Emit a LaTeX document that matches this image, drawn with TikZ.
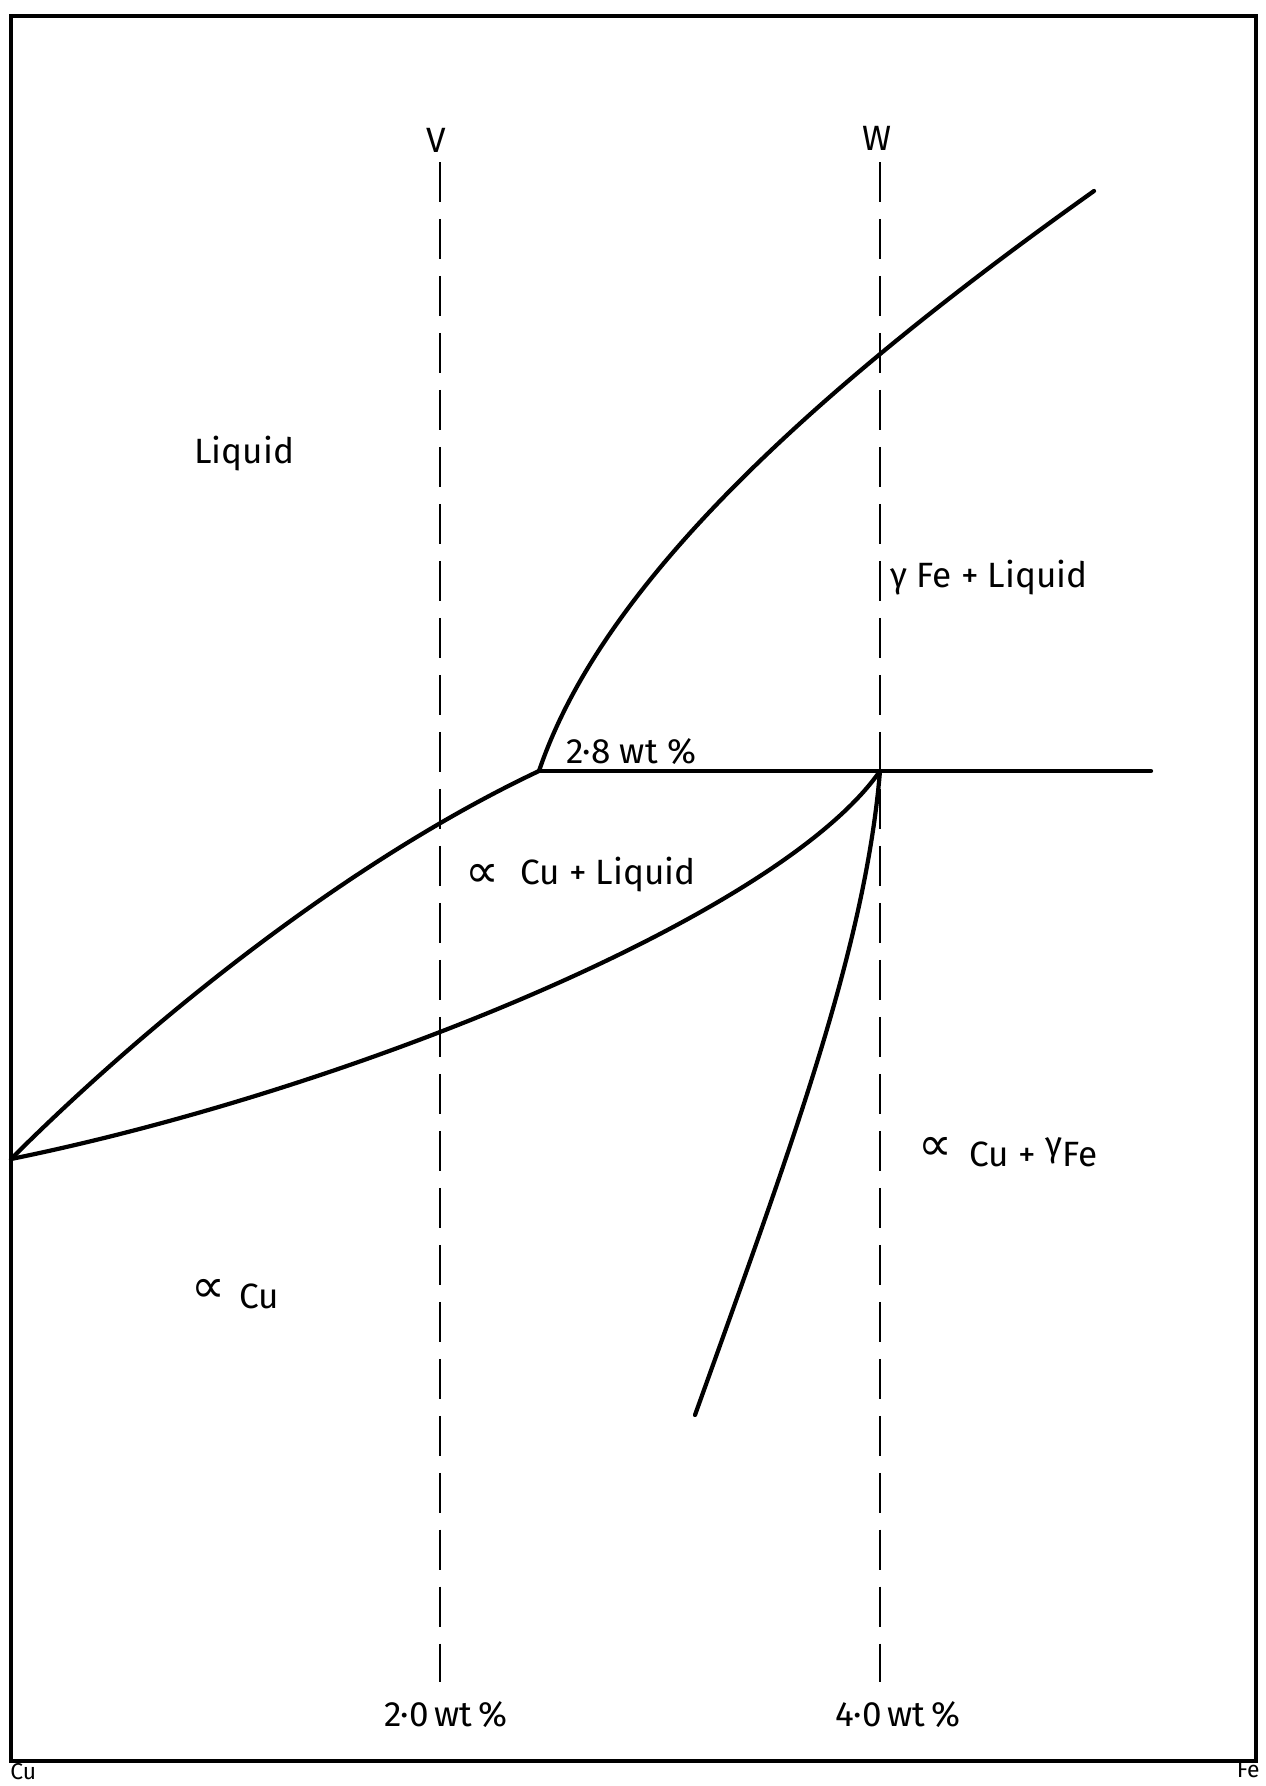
\documentclass[tikz,border=0pt]{standalone}
\usepackage{fontspec}
\setmainfont{Fira Sans}
\newfontfamily\symfont{DejaVu Sans}
\newcommand{\propsym}{{\symfont\scalebox{1.35}{∝}}}
\begin{document}
\begin{tikzpicture}[x=0.02cm,y=-0.02cm,
  curve/.style={line width=2.4pt,line cap=round,line join=round},
  frame/.style={line width=1.8pt},
  guide/.style={line width=1.3pt,dash pattern=on 0.8cm off 0.34cm},
  lbl/.style={font=\fontsize{20}{24}\selectfont,inner sep=0pt,anchor=base west},
  corner/.style={font=\fontsize{13}{15}\selectfont,inner sep=0pt}]
\useasboundingbox (0,0) rectangle (1266,1786);
\fill[white] (0,0) rectangle (1266,1786);
% frame
\draw[frame] (11,1761) -- (11,16) -- (1256,16) -- (1256,1761) -- cycle;
% key points
\coordinate (cu) at (11,1159);
\coordinate (eut) at (539,771);
\coordinate (wpt) at (880,771);
\coordinate (hend) at (1151,771);
\coordinate (ltop) at (1094,191);
\coordinate (send) at (695,1415);
\coordinate (vtop) at (440,162);
\coordinate (vbot) at (440,1682);
\coordinate (wtop) at (880,162);
\coordinate (wbot) at (880,1682);
% dashed composition lines
\draw[guide] (vtop) -- (vbot);
\draw[guide] (wtop) -- (wbot);
% horizontal line
\draw[curve] (eut) -- (hend);
% Fe liquidus
\draw[curve] (eut) .. controls (600,590) and (800,400) .. (ltop);
% Cu liquidus
\draw[curve] (cu) .. controls (150,1020) and (350,860) .. (eut);
% Cu solidus
\draw[curve] (cu) .. controls (350,1090) and (780,915) .. (wpt);
% solvus
\draw[curve] (wpt) .. controls (865,950) and (790,1150) .. (send);
% labels
\node[lbl,anchor=base] (V) at (436,152) {V};
\node[lbl,anchor=base] (W) at (877,150) {W};
\node[lbl] (liq) at (194,463) {Liquid};
\node[lbl] (gfl) at (890,587) {γ Fe + Liquid};
\node[lbl] (c28) at (566,763) {2·8 wt \%};
\node[lbl] (acl) at (465,884) {\raisebox{-0.2ex}{\propsym}\hspace{0.6em}Cu + Liquid};
\node[lbl] (acg) at (918,1166) {\raisebox{0.3ex}{\propsym}\hspace{0.5em}Cu + \raisebox{0.5ex}{γ}Fe};
\node[lbl] (ac) at (191,1308) {\raisebox{0.3ex}{\propsym}\hspace{0.4em}Cu};
\node[lbl] (c20) at (384,1726) {2·0\,wt\,\%};
\node[lbl] (c40) at (835,1726) {4·0\,wt\,\%};
\node[corner,anchor=base west] (Cu) at (10,1779) {Cu};
\node[corner,anchor=base east] (Fe) at (1260,1777) {Fe};
\end{tikzpicture}
\end{document}
